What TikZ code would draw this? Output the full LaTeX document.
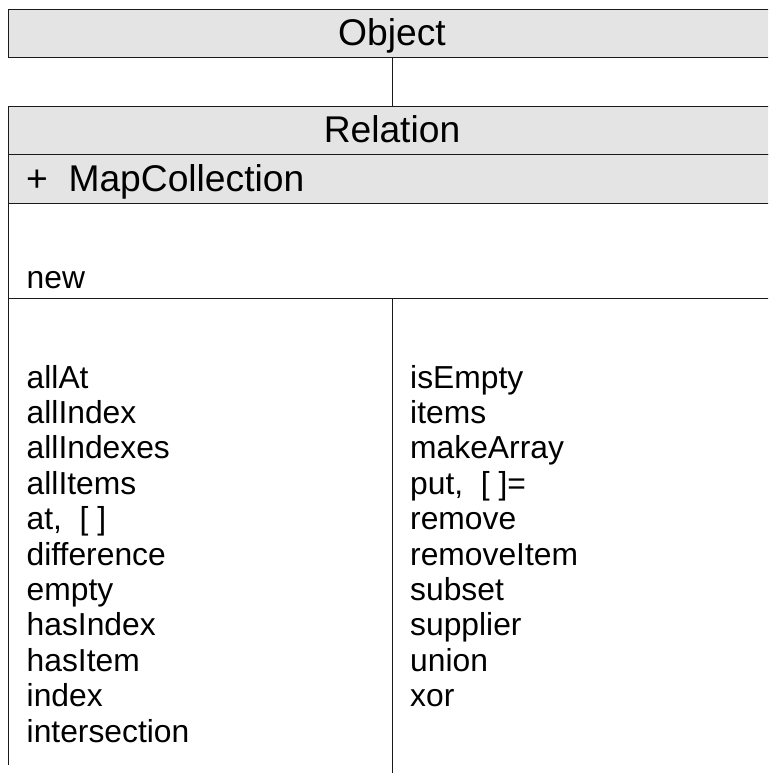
\documentclass[tikz,border=0pt]{standalone}
\usepackage{fontspec}
\setmainfont{Liberation Sans}
\definecolor{classgray}{HTML}{E4E4E4}
\definecolor{umlline}{HTML}{1A1A1A}
\newcommand\umlheadfont{\fontsize{37.2}{44}\selectfont}
\newcommand\umllistfont{\fontsize{31.8}{35.4}\selectfont}
\tikzset{
  classbox/.style={draw=umlline,fill=classgray,line width=1pt,minimum width=768pt,
    minimum height=48pt,inner sep=0pt,font=\umlheadfont,text height=30pt,text depth=6pt},
  member/.style={anchor=base west,inner sep=0pt,font=\umllistfont},
  umlrule/.style={draw=umlline,line width=1pt}
}
\begin{document}
\begin{tikzpicture}[x=1pt,y=-1pt]
  \useasboundingbox (0,0) rectangle (768,773);
  \clip (0,0) rectangle (768,773);
  \node[classbox] (object) at (392,34) {Object};
  \node[classbox] (relation) at (392,130.5) {Relation};
  \draw[umlrule] (object.south) -- (relation.north);
  \begin{scope}
    \fill[classgray] (8,154.5) rectangle (776,203);
    \draw[umlrule] (8,154.5) rectangle (776,203);
    \node[member,font=\umlheadfont] (mapcoll) at (26,191) {+~~MapCollection};
  \end{scope}
  \begin{scope}
    \draw[umlrule] (8,203) -- (8,765);
    \draw[umlrule] (8,298) -- (776,298);
    \node[member] (new) at (26.5,288) {new};
  \end{scope}
  \begin{scope}
    \draw[umlrule] (392,298) -- (392,773);
    \foreach \m [count=\i from 0] in {allAt,allIndex,allIndexes,allItems,{at,~~[~]},difference,
      empty,hasIndex,hasItem,index,intersection}
      \node[member] (left-\i) at (26.5,{388+35.4*\i}) {\m};
    \foreach \m [count=\i from 0] in {isEmpty,items,makeArray,{put,~~[~]=},remove,removeItem,
      subset,supplier,union,xor}
      \node[member] (right-\i) at (410,{388+35.4*\i}) {\m};
  \end{scope}
\end{tikzpicture}
\end{document}
